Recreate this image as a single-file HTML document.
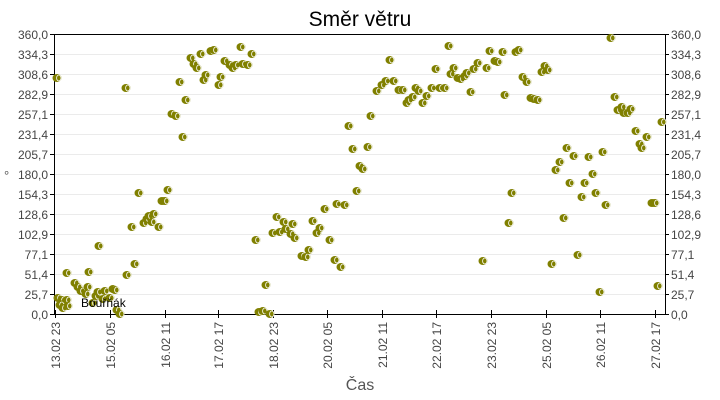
<!DOCTYPE html>
<html><head><meta charset="utf-8"><style>
body{margin:0;background:#fff;}
svg{display:block;font-family:"Liberation Sans",sans-serif;}
</style></head><body>
<svg width="720" height="400" viewBox="0 0 720 400">
<defs>
<g id="m"><ellipse cx="0" cy="0" rx="4.5" ry="4" fill="#808000"/><ellipse cx="1.8" cy="0" rx="2.2" ry="3" fill="none" stroke="#fff" stroke-width="0.8"/></g>
</defs>
<text x="360" y="26" text-anchor="middle" font-size="21" fill="#000">Směr větru</text>
<g stroke="#ebebeb" stroke-width="1">
<line x1="54" x2="665" y1="54.5" y2="54.5"/><line x1="54" x2="665" y1="74.5" y2="74.5"/><line x1="54" x2="665" y1="94.5" y2="94.5"/><line x1="54" x2="665" y1="114.5" y2="114.5"/><line x1="54" x2="665" y1="134.5" y2="134.5"/><line x1="54" x2="665" y1="154.5" y2="154.5"/><line x1="54" x2="665" y1="174.5" y2="174.5"/><line x1="54" x2="665" y1="194.5" y2="194.5"/><line x1="54" x2="665" y1="214.5" y2="214.5"/><line x1="54" x2="665" y1="234.5" y2="234.5"/><line x1="54" x2="665" y1="254.5" y2="254.5"/><line x1="54" x2="665" y1="274.5" y2="274.5"/><line x1="54" x2="665" y1="294.5" y2="294.5"/>
</g>
<g stroke="#000" stroke-width="1" fill="none">
<rect x="54.5" y="34.5" width="611" height="280"/>
</g>
<g stroke="#000" stroke-width="1">
<line x1="50" x2="54" y1="34.5" y2="34.5"/><line x1="50" x2="54" y1="54.5" y2="54.5"/><line x1="50" x2="54" y1="74.5" y2="74.5"/><line x1="50" x2="54" y1="94.5" y2="94.5"/><line x1="50" x2="54" y1="114.5" y2="114.5"/><line x1="50" x2="54" y1="134.5" y2="134.5"/><line x1="50" x2="54" y1="154.5" y2="154.5"/><line x1="50" x2="54" y1="174.5" y2="174.5"/><line x1="50" x2="54" y1="194.5" y2="194.5"/><line x1="50" x2="54" y1="214.5" y2="214.5"/><line x1="50" x2="54" y1="234.5" y2="234.5"/><line x1="50" x2="54" y1="254.5" y2="254.5"/><line x1="50" x2="54" y1="274.5" y2="274.5"/><line x1="50" x2="54" y1="294.5" y2="294.5"/><line x1="50" x2="54" y1="314.5" y2="314.5"/>
<line x1="665" x2="669" y1="34.5" y2="34.5"/><line x1="665" x2="669" y1="54.5" y2="54.5"/><line x1="665" x2="669" y1="74.5" y2="74.5"/><line x1="665" x2="669" y1="94.5" y2="94.5"/><line x1="665" x2="669" y1="114.5" y2="114.5"/><line x1="665" x2="669" y1="134.5" y2="134.5"/><line x1="665" x2="669" y1="154.5" y2="154.5"/><line x1="665" x2="669" y1="174.5" y2="174.5"/><line x1="665" x2="669" y1="194.5" y2="194.5"/><line x1="665" x2="669" y1="214.5" y2="214.5"/><line x1="665" x2="669" y1="234.5" y2="234.5"/><line x1="665" x2="669" y1="254.5" y2="254.5"/><line x1="665" x2="669" y1="274.5" y2="274.5"/><line x1="665" x2="669" y1="294.5" y2="294.5"/><line x1="665" x2="669" y1="314.5" y2="314.5"/>
<line x1="55.5" x2="55.5" y1="310" y2="318"/><line x1="110.5" x2="110.5" y1="310" y2="318"/><line x1="165.5" x2="165.5" y1="310" y2="318"/><line x1="218.5" x2="218.5" y1="310" y2="318"/><line x1="273.5" x2="273.5" y1="310" y2="318"/><line x1="327.5" x2="327.5" y1="310" y2="318"/><line x1="382.5" x2="382.5" y1="310" y2="318"/><line x1="436.5" x2="436.5" y1="310" y2="318"/><line x1="491.5" x2="491.5" y1="310" y2="318"/><line x1="546.5" x2="546.5" y1="310" y2="318"/><line x1="600.5" x2="600.5" y1="310" y2="318"/><line x1="655.5" x2="655.5" y1="310" y2="318"/>
</g>
<g font-size="12" fill="#444" text-anchor="end">
<text x="48" y="39">360,0</text><text x="48" y="59">334,3</text><text x="48" y="79">308,6</text><text x="48" y="99">282,9</text><text x="48" y="119">257,1</text><text x="48" y="139">231,4</text><text x="48" y="159">205,7</text><text x="48" y="179">180,0</text><text x="48" y="199">154,3</text><text x="48" y="219">128,6</text><text x="48" y="239">102,9</text><text x="48" y="259">77,1</text><text x="48" y="279">51,4</text><text x="48" y="299">25,7</text><text x="48" y="319">0,0</text>
</g>
<g font-size="12" fill="#444" text-anchor="start">
<text x="671" y="39">360,0</text><text x="671" y="59">334,3</text><text x="671" y="79">308,6</text><text x="671" y="99">282,9</text><text x="671" y="119">257,1</text><text x="671" y="139">231,4</text><text x="671" y="159">205,7</text><text x="671" y="179">180,0</text><text x="671" y="199">154,3</text><text x="671" y="219">128,6</text><text x="671" y="239">102,9</text><text x="671" y="259">77,1</text><text x="671" y="279">51,4</text><text x="671" y="299">25,7</text><text x="671" y="319">0,0</text>
</g>
<g font-size="12" fill="#444" text-anchor="end">
<text transform="translate(60,322) rotate(-90)">13.02 23</text>
<text transform="translate(115,322) rotate(-90)">15.02 05</text>
<text transform="translate(170,322) rotate(-90)">16.02 11</text>
<text transform="translate(223,322) rotate(-90)">17.02 17</text>
<text transform="translate(278,322) rotate(-90)">18.02 23</text>
<text transform="translate(332,322) rotate(-90)">20.02 05</text>
<text transform="translate(387,322) rotate(-90)">21.02 11</text>
<text transform="translate(441,322) rotate(-90)">22.02 17</text>
<text transform="translate(496,322) rotate(-90)">23.02 23</text>
<text transform="translate(551,322) rotate(-90)">25.02 05</text>
<text transform="translate(605,322) rotate(-90)">26.02 11</text>
<text transform="translate(660,322) rotate(-90)">27.02 17</text>
</g>
<text x="360" y="390" text-anchor="middle" font-size="16" fill="#555">Čas</text>
<text x="4" y="180" font-size="13" fill="#555">°</text>
<g>
<use href="#m" x="57" y="78"/><use href="#m" x="58" y="298"/><use href="#m" x="62" y="300"/><use href="#m" x="65" y="303"/><use href="#m" x="60" y="305"/><use href="#m" x="67" y="300"/><use href="#m" x="63" y="308"/><use href="#m" x="68" y="306"/><use href="#m" x="67" y="273"/><use href="#m" x="75" y="283"/><use href="#m" x="78" y="287"/><use href="#m" x="81" y="291"/><use href="#m" x="88" y="287"/><use href="#m" x="86" y="294"/><use href="#m" x="89" y="272"/><use href="#m" x="93" y="303"/><use href="#m" x="96" y="296"/><use href="#m" x="98" y="292"/><use href="#m" x="103" y="299"/><use href="#m" x="105" y="291"/><use href="#m" x="110" y="298"/><use href="#m" x="113" y="289"/><use href="#m" x="115" y="290"/><use href="#m" x="117" y="310"/><use href="#m" x="120" y="314"/><use href="#m" x="99" y="246"/><use href="#m" x="127" y="275"/><use href="#m" x="135" y="264"/><use href="#m" x="126" y="88"/><use href="#m" x="132" y="227"/><use href="#m" x="139" y="193"/><use href="#m" x="144" y="223"/><use href="#m" x="147" y="219"/><use href="#m" x="149" y="216"/><use href="#m" x="152" y="222"/><use href="#m" x="154" y="214"/><use href="#m" x="159" y="227"/><use href="#m" x="162" y="201"/><use href="#m" x="165" y="201"/><use href="#m" x="168" y="190"/><use href="#m" x="172" y="114"/><use href="#m" x="176" y="116"/><use href="#m" x="183" y="137"/><use href="#m" x="180" y="82"/><use href="#m" x="186" y="100"/><use href="#m" x="191" y="58"/><use href="#m" x="194" y="64"/><use href="#m" x="197" y="68"/><use href="#m" x="201" y="54"/><use href="#m" x="204" y="80"/><use href="#m" x="206" y="75"/><use href="#m" x="211" y="51"/><use href="#m" x="214" y="50"/><use href="#m" x="219" y="85"/><use href="#m" x="221" y="77"/><use href="#m" x="225" y="61"/><use href="#m" x="230" y="65"/><use href="#m" x="233" y="68"/><use href="#m" x="236" y="65"/><use href="#m" x="241" y="47"/><use href="#m" x="243" y="64"/><use href="#m" x="248" y="65"/><use href="#m" x="252" y="54"/><use href="#m" x="256" y="240"/><use href="#m" x="259" y="312"/><use href="#m" x="263" y="311"/><use href="#m" x="266" y="285"/><use href="#m" x="270" y="314"/><use href="#m" x="273" y="233"/><use href="#m" x="277" y="217"/><use href="#m" x="280" y="232"/><use href="#m" x="284" y="222"/><use href="#m" x="286" y="229"/><use href="#m" x="291" y="234"/><use href="#m" x="293" y="224"/><use href="#m" x="295" y="238"/><use href="#m" x="302" y="256"/><use href="#m" x="306" y="257"/><use href="#m" x="309" y="250"/><use href="#m" x="313" y="221"/><use href="#m" x="317" y="233"/><use href="#m" x="320" y="228"/><use href="#m" x="325" y="209"/><use href="#m" x="330" y="240"/><use href="#m" x="335" y="260"/><use href="#m" x="337" y="204"/><use href="#m" x="341" y="267"/><use href="#m" x="345" y="205"/><use href="#m" x="349" y="126"/><use href="#m" x="353" y="149"/><use href="#m" x="357" y="191"/><use href="#m" x="360" y="166"/><use href="#m" x="363" y="169"/><use href="#m" x="368" y="147"/><use href="#m" x="371" y="116"/><use href="#m" x="377" y="91"/><use href="#m" x="382" y="85"/><use href="#m" x="386" y="81"/><use href="#m" x="390" y="60"/><use href="#m" x="394" y="81"/><use href="#m" x="399" y="90"/><use href="#m" x="403" y="90"/><use href="#m" x="407" y="103"/><use href="#m" x="409" y="100"/><use href="#m" x="413" y="97"/><use href="#m" x="416" y="88"/><use href="#m" x="419" y="91"/><use href="#m" x="423" y="103"/><use href="#m" x="427" y="96"/><use href="#m" x="432" y="88"/><use href="#m" x="436" y="69"/><use href="#m" x="440" y="88"/><use href="#m" x="445" y="88"/><use href="#m" x="449" y="46"/><use href="#m" x="451" y="74"/><use href="#m" x="454" y="68"/><use href="#m" x="458" y="78"/><use href="#m" x="461" y="79"/><use href="#m" x="465" y="76"/><use href="#m" x="467" y="73"/><use href="#m" x="471" y="92"/><use href="#m" x="474" y="69"/><use href="#m" x="478" y="63"/><use href="#m" x="483" y="261"/><use href="#m" x="487" y="68"/><use href="#m" x="490" y="51"/><use href="#m" x="495" y="61"/><use href="#m" x="498" y="62"/><use href="#m" x="503" y="52"/><use href="#m" x="505" y="95"/><use href="#m" x="509" y="223"/><use href="#m" x="512" y="193"/><use href="#m" x="516" y="52"/><use href="#m" x="519" y="50"/><use href="#m" x="523" y="77"/><use href="#m" x="527" y="82"/><use href="#m" x="531" y="98"/><use href="#m" x="534" y="99"/><use href="#m" x="538" y="100"/><use href="#m" x="542" y="72"/><use href="#m" x="545" y="66"/><use href="#m" x="548" y="70"/><use href="#m" x="552" y="264"/><use href="#m" x="556" y="170"/><use href="#m" x="560" y="162"/><use href="#m" x="564" y="218"/><use href="#m" x="567" y="148"/><use href="#m" x="570" y="183"/><use href="#m" x="574" y="156"/><use href="#m" x="578" y="255"/><use href="#m" x="582" y="197"/><use href="#m" x="585" y="183"/><use href="#m" x="589" y="157"/><use href="#m" x="593" y="174"/><use href="#m" x="596" y="193"/><use href="#m" x="600" y="292"/><use href="#m" x="603" y="152"/><use href="#m" x="606" y="205"/><use href="#m" x="611" y="38"/><use href="#m" x="615" y="97"/><use href="#m" x="618" y="110"/><use href="#m" x="622" y="107"/><use href="#m" x="624" y="113"/><use href="#m" x="628" y="113"/><use href="#m" x="631" y="109"/><use href="#m" x="636" y="131"/><use href="#m" x="640" y="144"/><use href="#m" x="642" y="148"/><use href="#m" x="647" y="137"/><use href="#m" x="652" y="203"/><use href="#m" x="655" y="203"/><use href="#m" x="658" y="286"/><use href="#m" x="662" y="122"/>
</g>
<text x="81" y="307" font-size="12" fill="#000">Bouřňák</text>
</svg>
</body></html>
